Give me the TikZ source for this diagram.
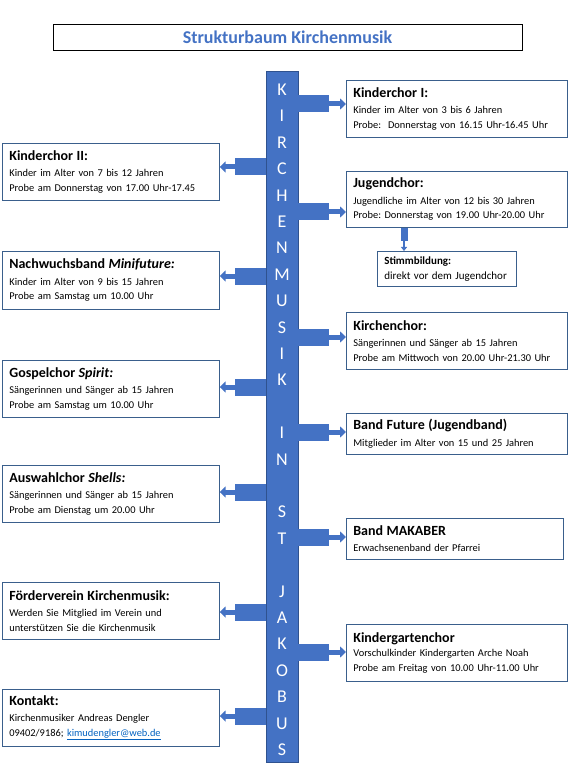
\documentclass[tikz,border=0pt]{standalone}
\usepackage{fontspec}
\setmainfont{Carlito}
\usetikzlibrary{calc,arrows.meta}
\frenchspacing

\definecolor{stammblau}{HTML}{4472C4}
\definecolor{stammrand}{HTML}{2F528F}
\definecolor{rahmen}{HTML}{3A5F8C}
\definecolor{linkblau}{HTML}{0563C1}

\newcommand\kopf[1]{{\fontsize{14}{17}\selectfont\bfseries #1}}

% Ast nach rechts: Zielknoten, Hoehe
\newcommand\astR[2]{%
  \coordinate (s) at (trunk.east |- 0,#2);
  \coordinate (z) at (#1.west |- 0,#2);
  \fill[ast] ($(s)+(0,-8.5)$) rectangle ($(s)+(31,8.5)$);
  \draw[spitze] ($(s)+(31,0)$) -- (z);
}
% Ast nach links
\newcommand\astL[2]{%
  \coordinate (s) at (trunk.west |- 0,#2);
  \coordinate (z) at (#1.east |- 0,#2);
  \fill[ast] ($(s)+(-31,-8.5)$) rectangle ($(s)+(0,8.5)$);
  \draw[spitze] ($(s)+(-31,0)$) -- (z);
}

\begin{document}
\begin{tikzpicture}[
    x=1pt, y=-1pt,
    kasten/.style={draw=rahmen, line width=0.7pt, fill=white, anchor=north west,
      align=left, inner xsep=7pt, inner ysep=0pt, font=\fontsize{10.4}{14.5}\selectfont},
    rbox/.style={kasten, text width=207pt},
    lbox/.style={kasten, text width=203pt},
    stamm/.style={fill=stammblau, draw=stammrand, line width=0.6pt, text=white,
      minimum width=32pt, minimum height=691pt, inner sep=0pt, align=center,
      font=\fontsize{18}{26.4}\selectfont},
    ast/.style={fill=stammblau},
    spitze/.style={draw=stammblau, line width=5pt, -{Triangle[length=6pt,width=11pt]}}
  ]
  \useasboundingbox (0,0) rectangle (573,775);

  % Titel
  \node[draw=black, line width=0.8pt, minimum width=469pt, minimum height=26pt,
    text=stammblau, font=\fontsize{18}{20}\selectfont\bfseries]
    (titel) at (287.5,37.5) {Strukturbaum Kirchenmusik};

  % Stamm
  \node[stamm] (trunk) at (282,416.5) {\rule{0pt}{18pt}K\\I\\R\\C\\H\\E\\N\\M\\U\\S\\I\\K\\
    \mbox{}\\I\\N\\ \mbox{}\\S\\T\\ \mbox{}\\J\\A\\K\\O\\B\\U\\S};

  % rechte Seite
  \node[rbox, minimum height=57pt] (kc1) at (346,80) {\kopf{Kinderchor I:}\\[2pt]
    Kinder im Alter von 3 bis 6 Jahren\\
    Probe:\ \ Donnerstag von 16.15 Uhr-16.45 Uhr};
  \node[rbox, minimum height=56pt] (jc) at (346,171) {\kopf{Jugendchor:}\\[2pt]
    Jugendliche im Alter von 12 bis 30 Jahren\\
    Probe: Donnerstag von 19.00 Uhr-20.00 Uhr};
  \node[kasten, text width=125pt, minimum height=35pt] (stimm) at (377,251)
    {\fontsize{11}{14}\selectfont\textbf{Stimmbildung:}\\ direkt vor dem Jugendchor};
  \node[rbox, minimum height=57pt] (kich) at (346,312) {\kopf{Kirchenchor:}\\[2pt]
    Sängerinnen und Sänger ab 15 Jahren\\
    Probe am Mittwoch von 20.00 Uhr-21.30 Uhr};
  \node[rbox, minimum height=41pt] (bf) at (346,413) {\kopf{Band Future (Jugendband)}\\[2pt]
    Mitglieder im Alter von 15 und 25 Jahren};
  \node[kasten, text width=203pt, minimum height=41pt] (mak) at (346,518) {\kopf{Band MAKABER}\\[2pt]
    Erwachsenenband der Pfarrei};
  \node[rbox, minimum height=57pt] (kg) at (346,624) {\kopf{Kindergartenchor}\\
    Vorschulkinder Kindergarten Arche Noah\\
    Probe am Freitag von 10.00 Uhr-11.00 Uhr};

  % linke Seite
  \node[lbox, minimum height=57pt] (kc2) at (2,143) {\kopf{Kinderchor II:}\\[2pt]
    Kinder im Alter von 7 bis 12 Jahren\\
    Probe am Donnerstag von 17.00 Uhr-17.45};
  \node[lbox, minimum height=58pt] (nw) at (2,251) {\kopf{Nachwuchsband \textit{Minifuture:}}\\[2pt]
    Kinder im Alter von 9 bis 15 Jahren\\
    Probe am Samstag um 10.00 Uhr};
  \node[lbox, minimum height=57pt] (gos) at (2,360) {\kopf{Gospelchor \textit{Spirit:}}\\[2pt]
    Sängerinnen und Sänger ab 15 Jahren\\
    Probe am Samstag um 10.00 Uhr};
  \node[lbox, minimum height=57pt] (ausw) at (2,465) {\kopf{Auswahlchor \textit{Shells:}}\\[2pt]
    Sängerinnen und Sänger ab 15 Jahren\\
    Probe am Dienstag um 20.00 Uhr};
  \node[lbox, minimum height=57pt] (foer) at (2,582) {\kopf{Förderverein Kirchenmusik:}\\[2pt]
    Werden Sie Mitglied im Verein und\\
    unterstützen Sie die Kirchenmusik};
  \node[lbox, minimum height=57pt] (kon) at (2,689) {\kopf{Kontakt:}\\[2pt]
    Kirchenmusiker Andreas Dengler\\
    09402/9186; \textcolor{linkblau}{\underline{kimudengler@web.de}}};

  % Aeste
  \astR{kc1}{104}
  \astR{jc}{212}
  \astR{kich}{337}
  \astR{bf}{432}
  \astR{mak}{537}
  \astR{kg}{652}
  \astL{kc2}{167}
  \astL{nw}{276}
  \astL{gos}{387}
  \astL{ausw}{492}
  \astL{foer}{612}
  \astL{kon}{716}

  % Jugendchor -> Stimmbildung
  \coordinate (d) at (jc.south -| 404,0);
  \fill[ast] ($(d)+(-3.5,0)$) rectangle ($(d)+(3.5,13)$);
  \draw[draw=stammblau, line width=2pt, -{Triangle[length=4pt,width=6pt]}]
    ($(d)+(0,13)$) -- (stimm.north -| d);
\end{tikzpicture}
\end{document}
